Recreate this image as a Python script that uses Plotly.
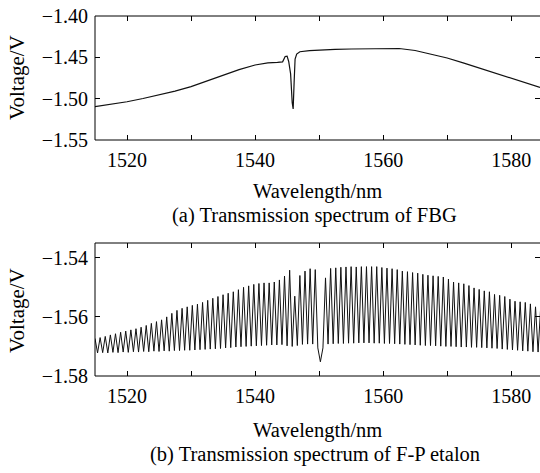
import plotly.graph_objects as go
from plotly.subplots import make_subplots

# ---------------- data ----------------
# (a) FBG transmission spectrum
fbg_nm = [1515, 1517.5, 1520, 1522.5, 1525, 1527.5, 1530, 1532.5, 1535, 1537.5,
          1540, 1542, 1543.5, 1544.3, 1544.7, 1545.0, 1545.25, 1545.55, 1545.8,
          1545.95, 1546.1, 1546.25, 1546.5, 1547, 1548.5, 1550, 1552.5, 1555,
          1557.5, 1560, 1562.5, 1565, 1567.5, 1570, 1572.5, 1575, 1577.5, 1580,
          1582.5, 1584.5]
fbg_v = [-1.5097, -1.5068, -1.5037, -1.4998, -1.4956, -1.4908, -1.4855, -1.4786,
         -1.4714, -1.4648, -1.4593, -1.4568, -1.4562, -1.4555, -1.4490, -1.4485,
         -1.4550, -1.4700, -1.5050, -1.5125, -1.4800, -1.4520, -1.4460, -1.4432,
         -1.4420, -1.4411, -1.4404, -1.4399, -1.4395, -1.4391, -1.4393, -1.4417,
         -1.4460, -1.4508, -1.4567, -1.4628, -1.4688, -1.4755, -1.4815, -1.4864]

# (b) F-P etalon transmission spectrum: peaks and troughs
fp_peak_nm = [1515.0, 1515.8, 1516.6, 1517.4, 1518.2, 1519.0, 1519.8, 1520.6, 1521.4, 1522.2,
              1523.0, 1523.8, 1524.6, 1525.4, 1526.2, 1527.0, 1527.8, 1528.6, 1529.4, 1530.2,
              1531.0, 1531.8, 1532.6, 1533.4, 1534.2, 1535.0, 1535.8, 1536.6, 1537.4, 1538.2,
              1539.0, 1539.8, 1540.6, 1541.4, 1542.2, 1543.0, 1543.8, 1544.6, 1545.4, 1546.2,
              1547.0, 1547.8, 1548.6, 1549.4, 1550.2, 1551.0, 1551.8, 1552.6, 1553.4, 1554.2,
              1555.0, 1555.8, 1556.6, 1557.4, 1558.2, 1559.0, 1559.8, 1560.6, 1561.4, 1562.2,
              1563.0, 1563.8, 1564.6, 1565.4, 1566.2, 1567.0, 1567.8, 1568.6, 1569.4, 1570.2,
              1571.0, 1571.8, 1572.6, 1573.4, 1574.2, 1575.0, 1575.8, 1576.6, 1577.4, 1578.2,
              1579.0, 1579.8, 1580.6, 1581.4, 1582.2, 1583.0, 1583.8, 1584.6]
fp_peak_v = [-1.5673, -1.5670, -1.5666, -1.5661, -1.5657, -1.5652, -1.5648, -1.5644, -1.5640, -1.5635,
             -1.5629, -1.5622, -1.5616, -1.5610, -1.5600, -1.5588, -1.5578, -1.5571, -1.5566, -1.5561,
             -1.5557, -1.5551, -1.5544, -1.5537, -1.5531, -1.5525, -1.5520, -1.5515, -1.5508, -1.5500,
             -1.5495, -1.5490, -1.5487, -1.5485, -1.5485, -1.5482, -1.5475, -1.5462, -1.5442, -1.5530,
             -1.5460, -1.5445, -1.5437, -1.5440, -1.5752, -1.5468, -1.5436, -1.5434, -1.5432, -1.5431,
             -1.5430, -1.5431, -1.5430, -1.5430, -1.5430, -1.5430, -1.5433, -1.5435, -1.5437, -1.5440,
             -1.5445, -1.5447, -1.5450, -1.5452, -1.5456, -1.5459, -1.5461, -1.5463, -1.5465, -1.5472,
             -1.5482, -1.5485, -1.5488, -1.5494, -1.5502, -1.5507, -1.5512, -1.5515, -1.5524, -1.5527,
             -1.5531, -1.5540, -1.5547, -1.5549, -1.5551, -1.5556, -1.5566, -1.5570]
fp_trough_nm = [1515.4, 1516.2, 1517.0, 1517.8, 1518.6, 1519.4, 1520.2, 1521.0, 1521.8, 1522.6,
                1523.4, 1524.2, 1525.0, 1525.8, 1526.6, 1527.4, 1528.2, 1529.0, 1529.8, 1530.6,
                1531.4, 1532.2, 1533.0, 1533.8, 1534.6, 1535.4, 1536.2, 1537.0, 1537.8, 1538.6,
                1539.4, 1540.2, 1541.0, 1541.8, 1542.6, 1543.4, 1544.2, 1545.0, 1545.8, 1546.6,
                1547.4, 1548.2, 1549.0, 1549.8, 1550.6, 1551.4, 1552.2, 1553.0, 1553.8, 1554.6,
                1555.4, 1556.2, 1557.0, 1557.8, 1558.6, 1559.4, 1560.2, 1561.0, 1561.8, 1562.6,
                1563.4, 1564.2, 1565.0, 1565.8, 1566.6, 1567.4, 1568.2, 1569.0, 1569.8, 1570.6,
                1571.4, 1572.2, 1573.0, 1573.8, 1574.6, 1575.4, 1576.2, 1577.0, 1577.8, 1578.6,
                1579.4, 1580.2, 1581.0, 1581.8, 1582.6, 1583.4, 1584.2]
fp_trough_v = [-1.5722, -1.5721, -1.5722, -1.5720, -1.5721, -1.5719, -1.5720, -1.5718, -1.5719, -1.5717,
               -1.5718, -1.5716, -1.5717, -1.5715, -1.5716, -1.5714, -1.5714, -1.5713, -1.5713, -1.5712,
               -1.5711, -1.5710, -1.5709, -1.5708, -1.5707, -1.5705, -1.5704, -1.5702, -1.5701, -1.5700,
               -1.5699, -1.5698, -1.5697, -1.5696, -1.5695, -1.5695, -1.5694, -1.5698, -1.5700, -1.5697,
               -1.5693, -1.5692, -1.5692, -1.5705, -1.5705, -1.5692, -1.5691, -1.5690, -1.5690, -1.5689,
               -1.5689, -1.5688, -1.5688, -1.5688, -1.5689, -1.5689, -1.5690, -1.5690, -1.5691, -1.5692,
               -1.5693, -1.5694, -1.5695, -1.5696, -1.5697, -1.5697, -1.5698, -1.5699, -1.5700, -1.5700,
               -1.5701, -1.5702, -1.5702, -1.5703, -1.5703, -1.5704, -1.5705, -1.5706, -1.5707, -1.5709,
               -1.5710, -1.5712, -1.5713, -1.5715, -1.5716, -1.5718, -1.5719]

x_tickvals = [1520, 1530, 1540, 1550, 1560, 1570, 1580]
x_ticktext = ["1520", "", "1540", "", "1560", "", "1580"]
ya_tickvals = [-1.40, -1.45, -1.50, -1.55]
yb_tickvals = [-1.54, -1.56, -1.58]

# interleave peaks and troughs of the etalon trace
fp_x, fp_y = [], []
for i in range(len(fp_peak_nm)):
    fp_x.append(fp_peak_nm[i]); fp_y.append(fp_peak_v[i])
    if i < len(fp_trough_nm):
        fp_x.append(fp_trough_nm[i]); fp_y.append(fp_trough_v[i])

# ---------------- figure ----------------
W, H = 540, 473
FONT = "Liberation Serif"

fig = make_subplots(rows=2, cols=1)
fig.add_trace(go.Scatter(x=fbg_nm, y=fbg_v, mode="lines",
                         line=dict(color="#111111", width=1.2), showlegend=False),
              row=1, col=1)
fig.add_trace(go.Scatter(x=fp_x, y=fp_y, mode="lines",
                         line=dict(color="#111111", width=1.0), showlegend=False),
              row=2, col=1)

xdom = [95 / W, 1.0]
ydom_a = [1 - 140 / H, 1 - 16 / H]
ydom_b = [1 - 376 / H, 1 - 243 / H]

common_axis = dict(showline=False, mirror="ticks", ticks="inside", ticklen=5,
                   tickwidth=1, tickcolor="black", showgrid=False, zeroline=False,
                   automargin=False,
                   tickfont=dict(family=FONT, size=20, color="black"))

fig.update_layout(
    template="none",
    width=W, height=H,
    margin=dict(l=0, r=0, t=0, b=0, pad=0, autoexpand=False),
    paper_bgcolor="white", plot_bgcolor="white",
    font=dict(family=FONT, size=20, color="black"),
    showlegend=False,
    xaxis=dict(domain=xdom, range=[1515, 1584.5], tickvals=x_tickvals,
               ticktext=x_ticktext, anchor="y", ticklabelstandoff=6, **common_axis),
    yaxis=dict(domain=ydom_a, range=[-1.55, -1.40], tickvals=ya_tickvals,
               tickformat=".2f", anchor="x", ticklabelstandoff=6, **common_axis),
    xaxis2=dict(domain=xdom, range=[1515, 1584.5], tickvals=x_tickvals,
                ticktext=x_ticktext, anchor="y2", ticklabelstandoff=6, **common_axis),
    yaxis2=dict(domain=ydom_b, range=[-1.58, -1.535], tickvals=yb_tickvals,
                tickformat=".2f", anchor="x2", ticklabelstandoff=6, **common_axis),
)

# frame lines (left, bottom, top) of each panel
for xr, yr in (("x domain", "y domain"), ("x2 domain", "y2 domain")):
    for (x0, y0, x1, y1) in ((0, 0, 1, 0), (0, 0, 0, 1), (0, 1, 1, 1)):
        fig.add_shape(type="line", xref=xr, yref=yr, x0=x0, y0=y0, x1=x1, y1=y1,
                      line=dict(color="black", width=1))

def label(text, px, py, angle=0, size=20.5):
    fig.add_annotation(text=text, x=px / W, y=1 - py / H, xref="paper", yref="paper",
                       xanchor="center", yanchor="middle", showarrow=False,
                       textangle=angle, font=dict(family=FONT, size=size, color="black"))

label("Voltage/V", 17, 78, -90, 21)
label("Voltage/V", 17, 311, -90, 21)
label("Wavelength/nm", 317, 191)
label("(a) Transmission spectrum of FBG", 314, 215)
label("Wavelength/nm", 317, 430)
label("(b) Transmission spectrum of F-P etalon", 315, 454)

fig.write_html("out.html",
               config={"displayModeBar": False},
               post_script="document.body.style.margin='0';document.body.style.overflow='hidden';")
